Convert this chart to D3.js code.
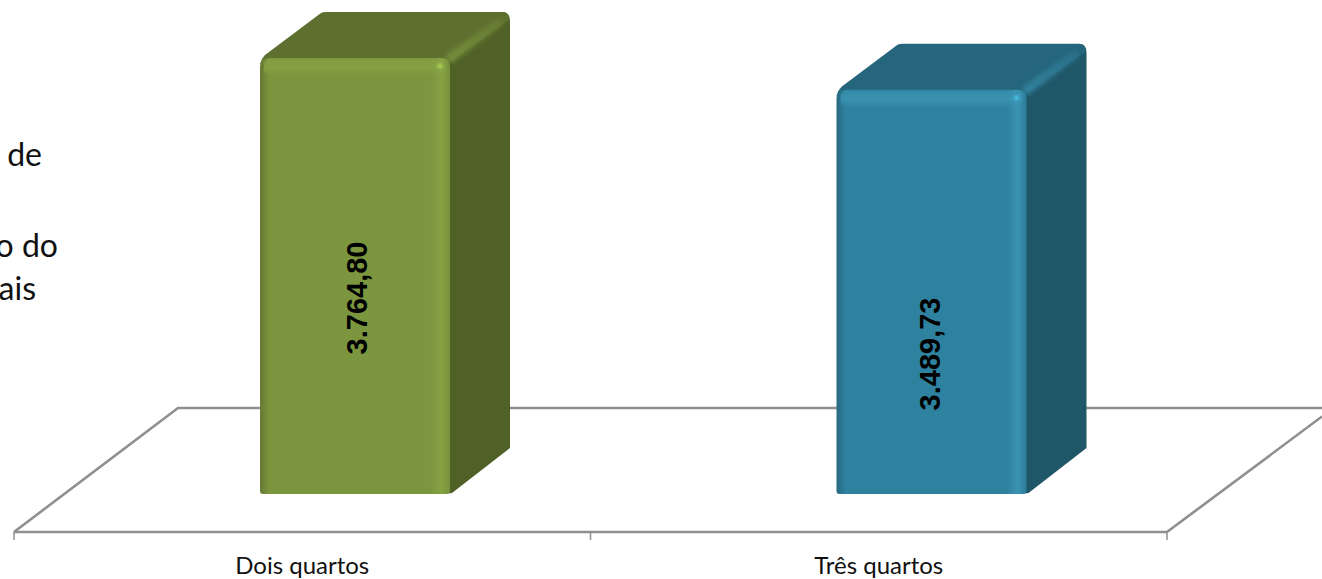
<!DOCTYPE html>
<html><head><meta charset="utf-8">
<script src="https://cdn.jsdelivr.net/npm/d3@7/dist/d3.min.js"></script>
<style>html,body{margin:0;padding:0;background:#fff;overflow:hidden}svg{display:block}</style>
</head><body><div id="c"></div>
<script>
const categories = ["Dois quartos", "Três quartos"];
const values = [3764.80, 3489.73];
const valueLabels = ["3.764,80", "3.489,73"];
const frontColors = ["#7C963F", "#2F829F"];
const topColors = ["#5E702F", "#25667C"];
const sideColors = ["#4F6126", "#1F5668"];
const edgeColors = ["#86A243", "#3A93B2"];
const sideLines = ["de", "o do", "ais"];

const W = 1322, H = 579;
const svg = d3.select("#c").append("svg").attr("width", W).attr("height", H);
const defs = svg.append("defs");

const x = d3.scaleBand().domain(categories).range([14, 1167]);
const y = d3.scaleLinear().domain([0, 3764.8]).range([494, 58]);
const dx = 60, dy = 46, barW = 190, barShift = 246;
const floorY = 532, backY = 408;
const labelPos = [[356.5, 298], [929.5, 354]];
const sidePos = [[42, 166], [58, 257], [36, 300]];

// floor
const floor = svg.append("g").attr("fill", "none").attr("stroke", "#8F8F8F").attr("stroke-width", 2.6);
const x0 = x.range()[0], x1 = x.range()[1];
floor.append("path").attr("d", `M${x0},${floorY}L${x1},${floorY}`);
floor.append("path").attr("d", `M${x0},${floorY}L178,${backY}L${W},${backY}`);
floor.append("path").attr("d", `M${x1},${floorY}L${W},416.5`);
const tickXs = [...categories.map(c => x(c)), x1];
floor.selectAll("line").data(tickXs).join("line")
  .attr("x1", d => d).attr("x2", d => d).attr("y1", floorY).attr("y2", floorY + 8)
  .attr("stroke-width", 1.5);

// category labels
svg.append("g").selectAll("text").data(categories).join("text")
  .attr("x", d => x(d) + x.bandwidth() / 2).attr("y", 574)
  .attr("text-anchor", "middle").attr("font-family", "Lato, 'Open Sans', sans-serif")
  .attr("font-size", 24).attr("fill", "#111").text(d => d);

// gradients
categories.forEach((c, i) => {
  const g = defs.append("linearGradient").attr("id", "h" + i);
  [[0, d3.color(frontColors[i]).darker(0.6)], [0.05, frontColors[i]], [0.9, frontColors[i]],
   [0.955, edgeColors[i]], [1, d3.color(frontColors[i]).darker(0.1)]].forEach(s =>
    g.append("stop").attr("offset", s[0]).attr("stop-color", s[1]));
  const v = defs.append("linearGradient").attr("id", "v" + i).attr("x2", 0).attr("y2", 1);
  v.append("stop").attr("offset", 0).attr("stop-color", edgeColors[i]).attr("stop-opacity", 0.5);
  v.append("stop").attr("offset", 0.5).attr("stop-color", edgeColors[i]).attr("stop-opacity", 0.9);
  v.append("stop").attr("offset", 1).attr("stop-color", edgeColors[i]).attr("stop-opacity", 0);
  const s = defs.append("radialGradient").attr("id", "s" + i);
  s.append("stop").attr("offset", 0).attr("stop-color", d3.color(edgeColors[i]).brighter(0.9)).attr("stop-opacity", 0.9);
  s.append("stop").attr("offset", 1).attr("stop-color", edgeColors[i]).attr("stop-opacity", 0);
  const e = defs.append("linearGradient").attr("id", "e" + i).attr("gradientUnits", "userSpaceOnUse");
  const L = x(c) + barShift, R = L + barW, T = y(values[i]);
  e.attr("x1", R).attr("y1", T).attr("x2", R + dx).attr("y2", T - dy);
  e.append("stop").attr("offset", 0).attr("stop-color", edgeColors[i]).attr("stop-opacity", 0.55);
  e.append("stop").attr("offset", 0.75).attr("stop-color", edgeColors[i]).attr("stop-opacity", 0.25);
  e.append("stop").attr("offset", 1).attr("stop-color", edgeColors[i]).attr("stop-opacity", 0);
});
defs.append("filter").attr("id", "soft").append("feGaussianBlur").attr("stdDeviation", 2);

// bars
const bars = svg.append("g").selectAll("g").data(categories).join("g");
bars.each(function(c, i) {
  const g = d3.select(this);
  const L = x(c) + barShift, R = L + barW, T = y(values[i]), B = y(0);
  // side
  g.append("path").attr("fill", sideColors[i])
    .attr("d", `M${R-6},${T}L${R+dx-8},${T-dy}Q${R+dx},${T-dy} ${R+dx},${T-dy+9}L${R+dx},${B-dy}L${R+2},${B-1}L${R-6},${B}Z`);
  // top
  g.append("path").attr("fill", topColors[i])
    .attr("d", `M${L},${T+6}Q${L+1},${T+1} ${L+5},${T-3}L${L+dx+1},${T-dy+1}Q${L+dx+3},${T-dy} ${L+dx+6},${T-dy}L${R+dx-8},${T-dy}Q${R+dx},${T-dy} ${R+dx-1},${T-dy+8}L${R},${T+4}Z`);
  // lit edge between top and side
  g.append("path").attr("fill", "none").attr("stroke", `url(#e${i})`).attr("stroke-width", 10)
    .attr("filter", "url(#soft)")
    .attr("d", `M${R-2},${T+2}L${R+dx-8},${T-dy+9}`);
  // front
  g.append("path").attr("fill", `url(#h${i})`)
    .attr("d", `M${L},${T+9}Q${L},${T} ${L+9},${T}L${R-9},${T}Q${R},${T} ${R},${T+9}L${R},${B-4}Q${R},${B} ${R-4},${B}L${L+3},${B}Q${L},${B} ${L},${B-3}Z`);
  g.append("rect").attr("x", L + 4).attr("y", T + 1).attr("width", barW - 8).attr("height", 17)
    .attr("rx", 6).attr("fill", `url(#v${i})`);
  g.append("circle").attr("cx", R - 10).attr("cy", T + 8).attr("r", 6).attr("fill", `url(#s${i})`);
  // value label
  g.append("text").attr("transform", `translate(${labelPos[i][0]},${labelPos[i][1]}) rotate(-90)`)
    .attr("text-anchor", "middle").attr("dominant-baseline", "central")
    .attr("font-family", "'Liberation Sans', sans-serif")
    .attr("font-weight", 700).attr("font-size", 29).attr("fill", "#000").text(valueLabels[i]);
});

// cut-off side text
svg.append("g").selectAll("text").data(sideLines).join("text")
  .attr("x", (d, i) => sidePos[i][0]).attr("y", (d, i) => sidePos[i][1]).attr("text-anchor", "end")
  .attr("font-family", "Lato, 'Open Sans', sans-serif").attr("font-size", 32).attr("fill", "#111")
  .text(d => d);
</script></body></html>
